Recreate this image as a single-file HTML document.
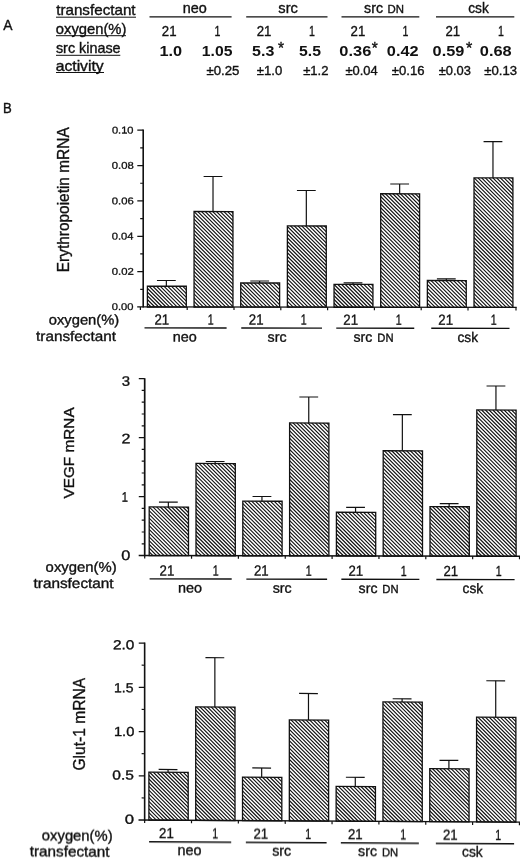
<!DOCTYPE html>
<html><head><meta charset="utf-8"><title>Figure</title>
<style>
html,body{margin:0;padding:0;background:#fff;}
body{width:520px;height:860px;overflow:hidden;font-family:"Liberation Sans",sans-serif;}
svg{display:block;font-family:"Liberation Sans",sans-serif;}
</style></head><body>
<svg width="520" height="860" viewBox="0 0 520 860">
<rect width="520" height="860" fill="#fff"/>
<g opacity="0.999">
<text transform="matrix(0.9644 0 0 1 3.27 30.20)" font-size="14.4" fill="#111" stroke="#111" stroke-width="0.35">A</text>
<text transform="matrix(1.0860 0 0 1 56.17 15.20)" font-size="14.0" fill="#111" stroke="#111" stroke-width="0.35">transfectant</text>
<line x1="56.00" y1="17.20" x2="136.00" y2="17.20" stroke="#111" stroke-width="1.0"/>
<text transform="matrix(1.0567 0 0 1 55.77 34.25)" font-size="14.0" fill="#111" stroke="#111" stroke-width="0.35">oxygen(%)</text>
<line x1="56.00" y1="35.70" x2="126.00" y2="35.70" stroke="#111" stroke-width="1.0"/>
<text transform="matrix(1.0271 0 0 1 55.90 53.20)" font-size="14.0" fill="#111" stroke="#111" stroke-width="0.35">src kinase</text>
<line x1="56.00" y1="55.30" x2="120.30" y2="55.30" stroke="#111" stroke-width="1.0"/>
<text transform="matrix(1.1251 0 0 1 55.63 70.75)" font-size="14.0" fill="#111" stroke="#111" stroke-width="0.35">activity</text>
<line x1="56.00" y1="72.50" x2="104.00" y2="72.50" stroke="#111" stroke-width="1.0"/>
<text transform="matrix(1.0302 0 0 1 182.83 13.10)" font-size="14.0" fill="#111" stroke="#111" stroke-width="0.35">neo</text>
<line x1="149.50" y1="16.80" x2="231.60" y2="16.80" stroke="#111" stroke-width="1.3"/>
<text transform="matrix(1.0484 0 0 1 278.35 13.10)" font-size="14.0" fill="#111" stroke="#111" stroke-width="0.35">src</text>
<line x1="246.20" y1="16.80" x2="327.50" y2="16.80" stroke="#111" stroke-width="1.3"/>
<text transform="matrix(1.0120 0 0 1 364.11 13.10)" font-size="14.0" fill="#111" stroke="#111" stroke-width="0.35">src</text>
<text transform="matrix(0.9918 0 0 1 387.46 13.00)" font-size="11.5" fill="#111" stroke="#111" stroke-width="0.35">DN</text>
<line x1="341.50" y1="16.80" x2="419.30" y2="16.80" stroke="#111" stroke-width="1.3"/>
<text transform="matrix(0.9802 0 0 1 468.17 13.10)" font-size="14.0" fill="#111" stroke="#111" stroke-width="0.35">csk</text>
<line x1="436.00" y1="16.80" x2="514.30" y2="16.80" stroke="#111" stroke-width="1.3"/>
<text transform="matrix(0.9065 0 0 1 161.84 35.80)" font-size="14.6" fill="#111" stroke="#111" stroke-width="0.35">21</text>
<text transform="matrix(0.9065 0 0 1 256.64 35.80)" font-size="14.6" fill="#111" stroke="#111" stroke-width="0.35">21</text>
<text transform="matrix(0.9065 0 0 1 350.54 35.80)" font-size="14.6" fill="#111" stroke="#111" stroke-width="0.35">21</text>
<text transform="matrix(0.9065 0 0 1 445.44 35.80)" font-size="14.6" fill="#111" stroke="#111" stroke-width="0.35">21</text>
<text transform="matrix(0.7285 0 0 1 214.40 35.80)" font-size="14.6" fill="#111" stroke="#111" stroke-width="0.35">1</text>
<text transform="matrix(0.7285 0 0 1 308.90 35.80)" font-size="14.6" fill="#111" stroke="#111" stroke-width="0.35">1</text>
<text transform="matrix(0.7285 0 0 1 402.50 35.80)" font-size="14.6" fill="#111" stroke="#111" stroke-width="0.35">1</text>
<text transform="matrix(0.7285 0 0 1 497.90 35.80)" font-size="14.6" fill="#111" stroke="#111" stroke-width="0.35">1</text>
<text transform="matrix(1.1327 0 0 1 159.48 56.00)" font-size="14.4" font-weight="bold" fill="#111" stroke="#111" stroke-width="0.0">1.0</text>
<text transform="matrix(1.0931 0 0 1 201.82 56.00)" font-size="14.4" font-weight="bold" fill="#111" stroke="#111" stroke-width="0.0">1.05</text>
<text transform="matrix(1.1137 0 0 1 252.02 56.00)" font-size="14.4" font-weight="bold" fill="#111" stroke="#111" stroke-width="0.0">5.3</text>
<text transform="matrix(1.0944 0 0 1 299.03 56.00)" font-size="14.4" font-weight="bold" fill="#111" stroke="#111" stroke-width="0.0">5.5</text>
<text transform="matrix(1.1419 0 0 1 339.34 56.00)" font-size="14.4" font-weight="bold" fill="#111" stroke="#111" stroke-width="0.0">0.36</text>
<text transform="matrix(1.1342 0 0 1 386.85 56.00)" font-size="14.4" font-weight="bold" fill="#111" stroke="#111" stroke-width="0.0">0.42</text>
<text transform="matrix(1.1327 0 0 1 432.60 56.00)" font-size="14.4" font-weight="bold" fill="#111" stroke="#111" stroke-width="0.0">0.59</text>
<text transform="matrix(1.1389 0 0 1 479.84 56.00)" font-size="14.4" font-weight="bold" fill="#111" stroke="#111" stroke-width="0.0">0.68</text>
<text transform="matrix(0.9350 0 0 1 277.98 54.39)" font-size="16.57" fill="#111" stroke="#111" stroke-width="0.35">*</text>
<text transform="matrix(0.9350 0 0 1 371.73 53.79)" font-size="16.57" fill="#111" stroke="#111" stroke-width="0.35">*</text>
<text transform="matrix(0.9775 0 0 1 465.97 53.89)" font-size="16.57" fill="#111" stroke="#111" stroke-width="0.35">*</text>
<text transform="matrix(1.0516 0 0 1 206.47 74.60)" font-size="12.6" fill="#111" stroke="#111" stroke-width="0.35">±0.25</text>
<text transform="matrix(1.0412 0 0 1 256.87 74.60)" font-size="12.6" fill="#111" stroke="#111" stroke-width="0.35">±1.0</text>
<text transform="matrix(1.0375 0 0 1 303.13 74.60)" font-size="12.6" fill="#111" stroke="#111" stroke-width="0.35">±1.2</text>
<text transform="matrix(1.0267 0 0 1 345.38 74.60)" font-size="12.6" fill="#111" stroke="#111" stroke-width="0.35">±0.04</text>
<text transform="matrix(1.0413 0 0 1 391.87 74.60)" font-size="12.6" fill="#111" stroke="#111" stroke-width="0.35">±0.16</text>
<text transform="matrix(1.0249 0 0 1 438.63 74.60)" font-size="12.6" fill="#111" stroke="#111" stroke-width="0.35">±0.03</text>
<text transform="matrix(1.0413 0 0 1 484.37 74.60)" font-size="12.6" fill="#111" stroke="#111" stroke-width="0.35">±0.13</text>
<text transform="matrix(0.9257 0 0 1 2.92 113.00)" font-size="14.2" fill="#111" stroke="#111" stroke-width="0.35">B</text>
<g transform="matrix(1 0.0012 0 1 0 -0.172)">
<line x1="166.35" y1="280.47" x2="166.35" y2="286.22" stroke="#111" stroke-width="1.2"/>
<line x1="156.95" y1="280.47" x2="175.75" y2="280.47" stroke="#111" stroke-width="1.2"/>
<line x1="213.01" y1="176.42" x2="213.01" y2="211.42" stroke="#111" stroke-width="1.2"/>
<line x1="203.61" y1="176.42" x2="222.41" y2="176.42" stroke="#111" stroke-width="1.2"/>
<line x1="259.67" y1="280.86" x2="259.67" y2="282.86" stroke="#111" stroke-width="1.2"/>
<line x1="250.27" y1="280.86" x2="269.07" y2="280.86" stroke="#111" stroke-width="1.2"/>
<line x1="306.33" y1="190.30" x2="306.33" y2="225.80" stroke="#111" stroke-width="1.2"/>
<line x1="296.93" y1="190.30" x2="315.73" y2="190.30" stroke="#111" stroke-width="1.2"/>
<line x1="352.99" y1="282.55" x2="352.99" y2="284.15" stroke="#111" stroke-width="1.2"/>
<line x1="343.59" y1="282.55" x2="362.39" y2="282.55" stroke="#111" stroke-width="1.2"/>
<line x1="399.65" y1="183.69" x2="399.65" y2="193.49" stroke="#111" stroke-width="1.2"/>
<line x1="390.25" y1="183.69" x2="409.05" y2="183.69" stroke="#111" stroke-width="1.2"/>
<line x1="446.31" y1="278.44" x2="446.31" y2="280.14" stroke="#111" stroke-width="1.2"/>
<line x1="436.91" y1="278.44" x2="455.71" y2="278.44" stroke="#111" stroke-width="1.2"/>
<line x1="492.97" y1="141.28" x2="492.97" y2="177.48" stroke="#111" stroke-width="1.2"/>
<line x1="483.57" y1="141.28" x2="502.37" y2="141.28" stroke="#111" stroke-width="1.2"/>
<clipPath id="c1"><rect x="147.40" y="286.22" width="38.90" height="20.78"/><rect x="194.06" y="211.42" width="38.90" height="95.58"/><rect x="240.72" y="282.86" width="38.90" height="24.14"/><rect x="287.38" y="225.80" width="38.90" height="81.20"/><rect x="334.04" y="284.15" width="38.90" height="22.85"/><rect x="380.70" y="193.49" width="38.90" height="113.51"/><rect x="427.36" y="280.14" width="38.90" height="26.86"/><rect x="474.02" y="177.48" width="38.90" height="129.52"/></clipPath>
<path clip-path="url(#c1)" d="M17.88 177.48l129.52 129.52M21.62 177.48l129.52 129.52M25.36 177.48l129.52 129.52M29.10 177.48l129.52 129.52M32.84 177.48l129.52 129.52M36.58 177.48l129.52 129.52M40.32 177.48l129.52 129.52M44.06 177.48l129.52 129.52M47.80 177.48l129.52 129.52M51.54 177.48l129.52 129.52M55.28 177.48l129.52 129.52M59.02 177.48l129.52 129.52M62.76 177.48l129.52 129.52M66.50 177.48l129.52 129.52M70.24 177.48l129.52 129.52M73.98 177.48l129.52 129.52M77.72 177.48l129.52 129.52M81.46 177.48l129.52 129.52M85.20 177.48l129.52 129.52M88.94 177.48l129.52 129.52M92.68 177.48l129.52 129.52M96.42 177.48l129.52 129.52M100.16 177.48l129.52 129.52M103.90 177.48l129.52 129.52M107.64 177.48l129.52 129.52M111.38 177.48l129.52 129.52M115.12 177.48l129.52 129.52M118.86 177.48l129.52 129.52M122.60 177.48l129.52 129.52M126.34 177.48l129.52 129.52M130.08 177.48l129.52 129.52M133.82 177.48l129.52 129.52M137.56 177.48l129.52 129.52M141.30 177.48l129.52 129.52M145.04 177.48l129.52 129.52M148.78 177.48l129.52 129.52M152.52 177.48l129.52 129.52M156.26 177.48l129.52 129.52M160.00 177.48l129.52 129.52M163.74 177.48l129.52 129.52M167.48 177.48l129.52 129.52M171.22 177.48l129.52 129.52M174.96 177.48l129.52 129.52M178.70 177.48l129.52 129.52M182.44 177.48l129.52 129.52M186.18 177.48l129.52 129.52M189.92 177.48l129.52 129.52M193.66 177.48l129.52 129.52M197.40 177.48l129.52 129.52M201.14 177.48l129.52 129.52M204.88 177.48l129.52 129.52M208.62 177.48l129.52 129.52M212.36 177.48l129.52 129.52M216.10 177.48l129.52 129.52M219.84 177.48l129.52 129.52M223.58 177.48l129.52 129.52M227.32 177.48l129.52 129.52M231.06 177.48l129.52 129.52M234.80 177.48l129.52 129.52M238.54 177.48l129.52 129.52M242.28 177.48l129.52 129.52M246.02 177.48l129.52 129.52M249.76 177.48l129.52 129.52M253.50 177.48l129.52 129.52M257.24 177.48l129.52 129.52M260.98 177.48l129.52 129.52M264.72 177.48l129.52 129.52M268.46 177.48l129.52 129.52M272.20 177.48l129.52 129.52M275.94 177.48l129.52 129.52M279.68 177.48l129.52 129.52M283.42 177.48l129.52 129.52M287.16 177.48l129.52 129.52M290.90 177.48l129.52 129.52M294.64 177.48l129.52 129.52M298.38 177.48l129.52 129.52M302.12 177.48l129.52 129.52M305.86 177.48l129.52 129.52M309.60 177.48l129.52 129.52M313.34 177.48l129.52 129.52M317.08 177.48l129.52 129.52M320.82 177.48l129.52 129.52M324.56 177.48l129.52 129.52M328.30 177.48l129.52 129.52M332.04 177.48l129.52 129.52M335.78 177.48l129.52 129.52M339.52 177.48l129.52 129.52M343.26 177.48l129.52 129.52M347.00 177.48l129.52 129.52M350.74 177.48l129.52 129.52M354.48 177.48l129.52 129.52M358.22 177.48l129.52 129.52M361.96 177.48l129.52 129.52M365.70 177.48l129.52 129.52M369.44 177.48l129.52 129.52M373.18 177.48l129.52 129.52M376.92 177.48l129.52 129.52M380.66 177.48l129.52 129.52M384.40 177.48l129.52 129.52M388.14 177.48l129.52 129.52M391.88 177.48l129.52 129.52M395.62 177.48l129.52 129.52M399.36 177.48l129.52 129.52M403.10 177.48l129.52 129.52M406.84 177.48l129.52 129.52M410.58 177.48l129.52 129.52M414.32 177.48l129.52 129.52M418.06 177.48l129.52 129.52M421.80 177.48l129.52 129.52M425.54 177.48l129.52 129.52M429.28 177.48l129.52 129.52M433.02 177.48l129.52 129.52M436.76 177.48l129.52 129.52M440.50 177.48l129.52 129.52M444.24 177.48l129.52 129.52M447.98 177.48l129.52 129.52M451.72 177.48l129.52 129.52M455.46 177.48l129.52 129.52M459.20 177.48l129.52 129.52M462.94 177.48l129.52 129.52M466.68 177.48l129.52 129.52M470.42 177.48l129.52 129.52M474.16 177.48l129.52 129.52M477.90 177.48l129.52 129.52M481.64 177.48l129.52 129.52M485.38 177.48l129.52 129.52M489.12 177.48l129.52 129.52M492.86 177.48l129.52 129.52M496.60 177.48l129.52 129.52M500.34 177.48l129.52 129.52M504.08 177.48l129.52 129.52M507.82 177.48l129.52 129.52M511.56 177.48l129.52 129.52" stroke="#111" stroke-width="1.15" fill="none"/>
<rect x="147.40" y="286.22" width="38.90" height="20.78" fill="none" stroke="#111" stroke-width="1.3"/>
<rect x="194.06" y="211.42" width="38.90" height="95.58" fill="none" stroke="#111" stroke-width="1.3"/>
<rect x="240.72" y="282.86" width="38.90" height="24.14" fill="none" stroke="#111" stroke-width="1.3"/>
<rect x="287.38" y="225.80" width="38.90" height="81.20" fill="none" stroke="#111" stroke-width="1.3"/>
<rect x="334.04" y="284.15" width="38.90" height="22.85" fill="none" stroke="#111" stroke-width="1.3"/>
<rect x="380.70" y="193.49" width="38.90" height="113.51" fill="none" stroke="#111" stroke-width="1.3"/>
<rect x="427.36" y="280.14" width="38.90" height="26.86" fill="none" stroke="#111" stroke-width="1.3"/>
<rect x="474.02" y="177.48" width="38.90" height="129.52" fill="none" stroke="#111" stroke-width="1.3"/>
<line x1="143.20" y1="129.60" x2="143.20" y2="307.60" stroke="#111" stroke-width="1.6"/>
<line x1="137.20" y1="307.00" x2="516.70" y2="307.00" stroke="#111" stroke-width="1.25"/>
<line x1="137.30" y1="271.64" x2="143.20" y2="271.64" stroke="#111" stroke-width="1.25"/>
<line x1="137.30" y1="236.28" x2="143.20" y2="236.28" stroke="#111" stroke-width="1.25"/>
<line x1="137.30" y1="200.92" x2="143.20" y2="200.92" stroke="#111" stroke-width="1.25"/>
<line x1="137.30" y1="165.56" x2="143.20" y2="165.56" stroke="#111" stroke-width="1.25"/>
<line x1="137.30" y1="130.20" x2="143.20" y2="130.20" stroke="#111" stroke-width="1.25"/>
<line x1="140.20" y1="289.32" x2="143.20" y2="289.32" stroke="#111" stroke-width="1.2"/>
<line x1="140.20" y1="253.96" x2="143.20" y2="253.96" stroke="#111" stroke-width="1.2"/>
<line x1="140.20" y1="218.60" x2="143.20" y2="218.60" stroke="#111" stroke-width="1.2"/>
<line x1="140.20" y1="183.24" x2="143.20" y2="183.24" stroke="#111" stroke-width="1.2"/>
<line x1="140.20" y1="147.88" x2="143.20" y2="147.88" stroke="#111" stroke-width="1.2"/>
<line x1="140.40" y1="307.00" x2="140.40" y2="310.00" stroke="#111" stroke-width="1.2"/>
<line x1="187.20" y1="307.00" x2="187.20" y2="310.00" stroke="#111" stroke-width="1.2"/>
<line x1="234.00" y1="307.00" x2="234.00" y2="310.00" stroke="#111" stroke-width="1.2"/>
<line x1="280.80" y1="307.00" x2="280.80" y2="310.00" stroke="#111" stroke-width="1.2"/>
<line x1="327.60" y1="307.00" x2="327.60" y2="310.00" stroke="#111" stroke-width="1.2"/>
<line x1="374.40" y1="307.00" x2="374.40" y2="310.00" stroke="#111" stroke-width="1.2"/>
<line x1="421.20" y1="307.00" x2="421.20" y2="310.00" stroke="#111" stroke-width="1.2"/>
<line x1="468.00" y1="307.00" x2="468.00" y2="310.00" stroke="#111" stroke-width="1.2"/>
<line x1="516.00" y1="307.00" x2="516.00" y2="310.00" stroke="#111" stroke-width="1.2"/>
<text transform="matrix(1.1365 0 0 1 111.75 310.02)" font-size="9.8" fill="#111" stroke="#111" stroke-width="0.3">0.00</text>
<text transform="matrix(1.1552 0 0 1 111.75 274.82)" font-size="9.8" fill="#111" stroke="#111" stroke-width="0.3">0.02</text>
<text transform="matrix(1.1413 0 0 1 111.75 239.42)" font-size="9.8" fill="#111" stroke="#111" stroke-width="0.3">0.04</text>
<text transform="matrix(1.1505 0 0 1 111.75 204.22)" font-size="9.8" fill="#111" stroke="#111" stroke-width="0.3">0.06</text>
<text transform="matrix(1.1505 0 0 1 111.75 168.82)" font-size="9.8" fill="#111" stroke="#111" stroke-width="0.3">0.08</text>
<text transform="matrix(1.1311 0 0 1 111.96 133.42)" font-size="9.8" fill="#111" stroke="#111" stroke-width="0.3">0.10</text>
</g>
<text transform="matrix(0 -0.9778 1 0 68.80 272.27)" font-size="15.8" fill="#111" stroke="#111" stroke-width="0.35">Erythropoietin mRNA</text>
<g transform="matrix(1 0.0012 0 1 0 -0.172)">
<text transform="matrix(1.0537 0 0 1 48.77 324.60)" font-size="14.0" fill="#111" stroke="#111" stroke-width="0.35">oxygen(%)</text>
<text transform="matrix(1.0929 0 0 1 36.07 341.00)" font-size="14.0" fill="#111" stroke="#111" stroke-width="0.35">transfectant</text>
<text transform="matrix(0.9065 0 0 1 154.44 324.40)" font-size="14.6" fill="#111" stroke="#111" stroke-width="0.35">21</text>
<text transform="matrix(0.9065 0 0 1 248.84 324.40)" font-size="14.6" fill="#111" stroke="#111" stroke-width="0.35">21</text>
<text transform="matrix(0.9065 0 0 1 343.34 324.40)" font-size="14.6" fill="#111" stroke="#111" stroke-width="0.35">21</text>
<text transform="matrix(0.9065 0 0 1 438.34 324.40)" font-size="14.6" fill="#111" stroke="#111" stroke-width="0.35">21</text>
<text transform="matrix(0.7285 0 0 1 207.70 324.40)" font-size="14.6" fill="#111" stroke="#111" stroke-width="0.35">1</text>
<text transform="matrix(0.7285 0 0 1 300.70 324.40)" font-size="14.6" fill="#111" stroke="#111" stroke-width="0.35">1</text>
<text transform="matrix(0.7285 0 0 1 395.70 324.40)" font-size="14.6" fill="#111" stroke="#111" stroke-width="0.35">1</text>
<text transform="matrix(0.7285 0 0 1 490.70 324.40)" font-size="14.6" fill="#111" stroke="#111" stroke-width="0.35">1</text>
<line x1="144.50" y1="327.90" x2="226.60" y2="327.90" stroke="#111" stroke-width="1.4"/>
<line x1="241.25" y1="327.90" x2="322.00" y2="327.90" stroke="#111" stroke-width="1.4"/>
<line x1="336.25" y1="327.90" x2="414.25" y2="327.90" stroke="#111" stroke-width="1.4"/>
<line x1="431.25" y1="327.90" x2="509.50" y2="327.90" stroke="#111" stroke-width="1.4"/>
<text transform="matrix(1.0302 0 0 1 172.78 341.50)" font-size="14.0" fill="#111" stroke="#111" stroke-width="0.35">neo</text>
<text transform="matrix(1.0204 0 0 1 267.61 341.50)" font-size="14.0" fill="#111" stroke="#111" stroke-width="0.35">src</text>
<text transform="matrix(1.0120 0 0 1 353.51 341.50)" font-size="14.0" fill="#111" stroke="#111" stroke-width="0.35">src</text>
<text transform="matrix(0.9698 0 0 1 377.27 341.50)" font-size="11.6" fill="#111" stroke="#111" stroke-width="0.35">DN</text>
<text transform="matrix(0.9802 0 0 1 457.42 341.50)" font-size="14.0" fill="#111" stroke="#111" stroke-width="0.35">csk</text>
</g>
<g transform="matrix(1 0.0019 0 1 0 -0.275)">
<line x1="168.35" y1="502.05" x2="168.35" y2="506.95" stroke="#111" stroke-width="1.2"/>
<line x1="158.95" y1="502.05" x2="177.75" y2="502.05" stroke="#111" stroke-width="1.2"/>
<line x1="215.15" y1="461.37" x2="215.15" y2="463.37" stroke="#111" stroke-width="1.2"/>
<line x1="205.75" y1="461.37" x2="224.55" y2="461.37" stroke="#111" stroke-width="1.2"/>
<line x1="261.95" y1="496.28" x2="261.95" y2="500.98" stroke="#111" stroke-width="1.2"/>
<line x1="252.55" y1="496.28" x2="271.35" y2="496.28" stroke="#111" stroke-width="1.2"/>
<line x1="308.75" y1="396.69" x2="308.75" y2="422.69" stroke="#111" stroke-width="1.2"/>
<line x1="299.35" y1="396.69" x2="318.15" y2="396.69" stroke="#111" stroke-width="1.2"/>
<line x1="355.55" y1="506.90" x2="355.55" y2="511.90" stroke="#111" stroke-width="1.2"/>
<line x1="346.15" y1="506.90" x2="364.95" y2="506.90" stroke="#111" stroke-width="1.2"/>
<line x1="402.35" y1="414.11" x2="402.35" y2="450.31" stroke="#111" stroke-width="1.2"/>
<line x1="392.95" y1="414.11" x2="411.75" y2="414.11" stroke="#111" stroke-width="1.2"/>
<line x1="449.15" y1="503.02" x2="449.15" y2="506.12" stroke="#111" stroke-width="1.2"/>
<line x1="439.75" y1="503.02" x2="458.55" y2="503.02" stroke="#111" stroke-width="1.2"/>
<line x1="495.95" y1="385.33" x2="495.95" y2="409.33" stroke="#111" stroke-width="1.2"/>
<line x1="486.55" y1="385.33" x2="505.35" y2="385.33" stroke="#111" stroke-width="1.2"/>
<clipPath id="c2"><rect x="149.20" y="506.95" width="39.30" height="48.65"/><rect x="196.00" y="463.37" width="39.30" height="92.23"/><rect x="242.80" y="500.98" width="39.30" height="54.62"/><rect x="289.60" y="422.69" width="39.30" height="132.91"/><rect x="336.40" y="511.90" width="39.30" height="43.70"/><rect x="383.20" y="450.31" width="39.30" height="105.29"/><rect x="430.00" y="506.12" width="39.30" height="49.48"/><rect x="476.80" y="409.33" width="39.30" height="146.27"/></clipPath>
<path clip-path="url(#c2)" d="M2.93 409.33l146.27 146.27M6.67 409.33l146.27 146.27M10.41 409.33l146.27 146.27M14.15 409.33l146.27 146.27M17.89 409.33l146.27 146.27M21.63 409.33l146.27 146.27M25.37 409.33l146.27 146.27M29.11 409.33l146.27 146.27M32.85 409.33l146.27 146.27M36.59 409.33l146.27 146.27M40.33 409.33l146.27 146.27M44.07 409.33l146.27 146.27M47.81 409.33l146.27 146.27M51.55 409.33l146.27 146.27M55.29 409.33l146.27 146.27M59.03 409.33l146.27 146.27M62.77 409.33l146.27 146.27M66.51 409.33l146.27 146.27M70.25 409.33l146.27 146.27M73.99 409.33l146.27 146.27M77.73 409.33l146.27 146.27M81.47 409.33l146.27 146.27M85.21 409.33l146.27 146.27M88.95 409.33l146.27 146.27M92.69 409.33l146.27 146.27M96.43 409.33l146.27 146.27M100.17 409.33l146.27 146.27M103.91 409.33l146.27 146.27M107.65 409.33l146.27 146.27M111.39 409.33l146.27 146.27M115.13 409.33l146.27 146.27M118.87 409.33l146.27 146.27M122.61 409.33l146.27 146.27M126.35 409.33l146.27 146.27M130.09 409.33l146.27 146.27M133.83 409.33l146.27 146.27M137.57 409.33l146.27 146.27M141.31 409.33l146.27 146.27M145.05 409.33l146.27 146.27M148.79 409.33l146.27 146.27M152.53 409.33l146.27 146.27M156.27 409.33l146.27 146.27M160.01 409.33l146.27 146.27M163.75 409.33l146.27 146.27M167.49 409.33l146.27 146.27M171.23 409.33l146.27 146.27M174.97 409.33l146.27 146.27M178.71 409.33l146.27 146.27M182.45 409.33l146.27 146.27M186.19 409.33l146.27 146.27M189.93 409.33l146.27 146.27M193.67 409.33l146.27 146.27M197.41 409.33l146.27 146.27M201.15 409.33l146.27 146.27M204.89 409.33l146.27 146.27M208.63 409.33l146.27 146.27M212.37 409.33l146.27 146.27M216.11 409.33l146.27 146.27M219.85 409.33l146.27 146.27M223.59 409.33l146.27 146.27M227.33 409.33l146.27 146.27M231.07 409.33l146.27 146.27M234.81 409.33l146.27 146.27M238.55 409.33l146.27 146.27M242.29 409.33l146.27 146.27M246.03 409.33l146.27 146.27M249.77 409.33l146.27 146.27M253.51 409.33l146.27 146.27M257.25 409.33l146.27 146.27M260.99 409.33l146.27 146.27M264.73 409.33l146.27 146.27M268.47 409.33l146.27 146.27M272.21 409.33l146.27 146.27M275.95 409.33l146.27 146.27M279.69 409.33l146.27 146.27M283.43 409.33l146.27 146.27M287.17 409.33l146.27 146.27M290.91 409.33l146.27 146.27M294.65 409.33l146.27 146.27M298.39 409.33l146.27 146.27M302.13 409.33l146.27 146.27M305.87 409.33l146.27 146.27M309.61 409.33l146.27 146.27M313.35 409.33l146.27 146.27M317.09 409.33l146.27 146.27M320.83 409.33l146.27 146.27M324.57 409.33l146.27 146.27M328.31 409.33l146.27 146.27M332.05 409.33l146.27 146.27M335.79 409.33l146.27 146.27M339.53 409.33l146.27 146.27M343.27 409.33l146.27 146.27M347.01 409.33l146.27 146.27M350.75 409.33l146.27 146.27M354.49 409.33l146.27 146.27M358.23 409.33l146.27 146.27M361.97 409.33l146.27 146.27M365.71 409.33l146.27 146.27M369.45 409.33l146.27 146.27M373.19 409.33l146.27 146.27M376.93 409.33l146.27 146.27M380.67 409.33l146.27 146.27M384.41 409.33l146.27 146.27M388.15 409.33l146.27 146.27M391.89 409.33l146.27 146.27M395.63 409.33l146.27 146.27M399.37 409.33l146.27 146.27M403.11 409.33l146.27 146.27M406.85 409.33l146.27 146.27M410.59 409.33l146.27 146.27M414.33 409.33l146.27 146.27M418.07 409.33l146.27 146.27M421.81 409.33l146.27 146.27M425.55 409.33l146.27 146.27M429.29 409.33l146.27 146.27M433.03 409.33l146.27 146.27M436.77 409.33l146.27 146.27M440.51 409.33l146.27 146.27M444.25 409.33l146.27 146.27M447.99 409.33l146.27 146.27M451.73 409.33l146.27 146.27M455.47 409.33l146.27 146.27M459.21 409.33l146.27 146.27M462.95 409.33l146.27 146.27M466.69 409.33l146.27 146.27M470.43 409.33l146.27 146.27M474.17 409.33l146.27 146.27M477.91 409.33l146.27 146.27M481.65 409.33l146.27 146.27M485.39 409.33l146.27 146.27M489.13 409.33l146.27 146.27M492.87 409.33l146.27 146.27M496.61 409.33l146.27 146.27M500.35 409.33l146.27 146.27M504.09 409.33l146.27 146.27M507.83 409.33l146.27 146.27M511.57 409.33l146.27 146.27M515.31 409.33l146.27 146.27" stroke="#111" stroke-width="1.15" fill="none"/>
<rect x="149.20" y="506.95" width="39.30" height="48.65" fill="none" stroke="#111" stroke-width="1.3"/>
<rect x="196.00" y="463.37" width="39.30" height="92.23" fill="none" stroke="#111" stroke-width="1.3"/>
<rect x="242.80" y="500.98" width="39.30" height="54.62" fill="none" stroke="#111" stroke-width="1.3"/>
<rect x="289.60" y="422.69" width="39.30" height="132.91" fill="none" stroke="#111" stroke-width="1.3"/>
<rect x="336.40" y="511.90" width="39.30" height="43.70" fill="none" stroke="#111" stroke-width="1.3"/>
<rect x="383.20" y="450.31" width="39.30" height="105.29" fill="none" stroke="#111" stroke-width="1.3"/>
<rect x="430.00" y="506.12" width="39.30" height="49.48" fill="none" stroke="#111" stroke-width="1.3"/>
<rect x="476.80" y="409.33" width="39.30" height="146.27" fill="none" stroke="#111" stroke-width="1.3"/>
<line x1="144.70" y1="378.20" x2="144.70" y2="556.20" stroke="#111" stroke-width="1.7"/>
<line x1="138.70" y1="555.60" x2="520.00" y2="555.60" stroke="#111" stroke-width="1.5"/>
<line x1="138.80" y1="496.60" x2="144.70" y2="496.60" stroke="#111" stroke-width="1.25"/>
<line x1="138.80" y1="437.60" x2="144.70" y2="437.60" stroke="#111" stroke-width="1.25"/>
<line x1="138.80" y1="378.60" x2="144.70" y2="378.60" stroke="#111" stroke-width="1.25"/>
<line x1="141.70" y1="543.80" x2="144.70" y2="543.80" stroke="#111" stroke-width="1.2"/>
<line x1="141.70" y1="532.00" x2="144.70" y2="532.00" stroke="#111" stroke-width="1.2"/>
<line x1="141.70" y1="520.20" x2="144.70" y2="520.20" stroke="#111" stroke-width="1.2"/>
<line x1="141.70" y1="508.40" x2="144.70" y2="508.40" stroke="#111" stroke-width="1.2"/>
<line x1="141.70" y1="484.80" x2="144.70" y2="484.80" stroke="#111" stroke-width="1.2"/>
<line x1="141.70" y1="473.00" x2="144.70" y2="473.00" stroke="#111" stroke-width="1.2"/>
<line x1="141.70" y1="461.20" x2="144.70" y2="461.20" stroke="#111" stroke-width="1.2"/>
<line x1="141.70" y1="449.40" x2="144.70" y2="449.40" stroke="#111" stroke-width="1.2"/>
<line x1="141.70" y1="425.80" x2="144.70" y2="425.80" stroke="#111" stroke-width="1.2"/>
<line x1="141.70" y1="414.00" x2="144.70" y2="414.00" stroke="#111" stroke-width="1.2"/>
<line x1="141.70" y1="402.20" x2="144.70" y2="402.20" stroke="#111" stroke-width="1.2"/>
<line x1="141.70" y1="390.40" x2="144.70" y2="390.40" stroke="#111" stroke-width="1.2"/>
<line x1="144.70" y1="555.60" x2="144.70" y2="558.60" stroke="#111" stroke-width="1.2"/>
<line x1="191.55" y1="555.60" x2="191.55" y2="558.60" stroke="#111" stroke-width="1.2"/>
<line x1="238.40" y1="555.60" x2="238.40" y2="558.60" stroke="#111" stroke-width="1.2"/>
<line x1="285.25" y1="555.60" x2="285.25" y2="558.60" stroke="#111" stroke-width="1.2"/>
<line x1="332.10" y1="555.60" x2="332.10" y2="558.60" stroke="#111" stroke-width="1.2"/>
<line x1="378.95" y1="555.60" x2="378.95" y2="558.60" stroke="#111" stroke-width="1.2"/>
<line x1="425.80" y1="555.60" x2="425.80" y2="558.60" stroke="#111" stroke-width="1.2"/>
<line x1="472.65" y1="555.60" x2="472.65" y2="558.60" stroke="#111" stroke-width="1.2"/>
<line x1="519.50" y1="555.60" x2="519.50" y2="558.60" stroke="#111" stroke-width="1.2"/>
<text transform="matrix(1.1837 0 0 1 121.25 560.01)" font-size="13.8" fill="#111" stroke="#111" stroke-width="0.35">0</text>
<text transform="matrix(0.8042 0 0 1 121.67 501.84)" font-size="13.8" fill="#111" stroke="#111" stroke-width="0.35">1</text>
<text transform="matrix(1.1626 0 0 1 121.50 443.31)" font-size="13.8" fill="#111" stroke="#111" stroke-width="0.35">2</text>
<text transform="matrix(1.0831 0 0 1 121.74 385.81)" font-size="13.8" fill="#111" stroke="#111" stroke-width="0.35">3</text>
</g>
<text transform="matrix(0 -0.9910 1 0 74.30 498.58)" font-size="15.5" fill="#111" stroke="#111" stroke-width="0.35">VEGF mRNA</text>
<g transform="matrix(1 0.0019 0 1 0 -0.275)">
<text transform="matrix(1.0613 0 0 1 45.62 571.90)" font-size="14.0" fill="#111" stroke="#111" stroke-width="0.35">oxygen(%)</text>
<text transform="matrix(1.0963 0 0 1 33.52 588.20)" font-size="14.0" fill="#111" stroke="#111" stroke-width="0.35">transfectant</text>
<text transform="matrix(0.9065 0 0 1 159.54 575.40)" font-size="14.6" fill="#111" stroke="#111" stroke-width="0.35">21</text>
<text transform="matrix(0.9065 0 0 1 253.94 575.40)" font-size="14.6" fill="#111" stroke="#111" stroke-width="0.35">21</text>
<text transform="matrix(0.9065 0 0 1 348.44 575.40)" font-size="14.6" fill="#111" stroke="#111" stroke-width="0.35">21</text>
<text transform="matrix(0.9065 0 0 1 443.44 575.40)" font-size="14.6" fill="#111" stroke="#111" stroke-width="0.35">21</text>
<text transform="matrix(0.7285 0 0 1 212.80 575.40)" font-size="14.6" fill="#111" stroke="#111" stroke-width="0.35">1</text>
<text transform="matrix(0.7285 0 0 1 305.80 575.40)" font-size="14.6" fill="#111" stroke="#111" stroke-width="0.35">1</text>
<text transform="matrix(0.7285 0 0 1 400.80 575.40)" font-size="14.6" fill="#111" stroke="#111" stroke-width="0.35">1</text>
<text transform="matrix(0.7285 0 0 1 495.80 575.40)" font-size="14.6" fill="#111" stroke="#111" stroke-width="0.35">1</text>
<line x1="149.60" y1="578.90" x2="231.70" y2="578.90" stroke="#111" stroke-width="1.4"/>
<line x1="246.35" y1="578.90" x2="327.10" y2="578.90" stroke="#111" stroke-width="1.4"/>
<line x1="341.35" y1="578.90" x2="419.35" y2="578.90" stroke="#111" stroke-width="1.4"/>
<line x1="436.35" y1="578.90" x2="514.60" y2="578.90" stroke="#111" stroke-width="1.4"/>
<text transform="matrix(1.0302 0 0 1 177.88 592.50)" font-size="14.0" fill="#111" stroke="#111" stroke-width="0.35">neo</text>
<text transform="matrix(1.0204 0 0 1 272.71 592.50)" font-size="14.0" fill="#111" stroke="#111" stroke-width="0.35">src</text>
<text transform="matrix(1.0120 0 0 1 358.61 592.50)" font-size="14.0" fill="#111" stroke="#111" stroke-width="0.35">src</text>
<text transform="matrix(0.9698 0 0 1 382.37 592.50)" font-size="11.6" fill="#111" stroke="#111" stroke-width="0.35">DN</text>
<text transform="matrix(0.9802 0 0 1 462.52 592.50)" font-size="14.0" fill="#111" stroke="#111" stroke-width="0.35">csk</text>
</g>
<g transform="matrix(1 0.0055 0 1 0 -0.796)">
<line x1="168.05" y1="769.37" x2="168.05" y2="772.17" stroke="#111" stroke-width="1.2"/>
<line x1="158.65" y1="769.37" x2="177.45" y2="769.37" stroke="#111" stroke-width="1.2"/>
<line x1="214.86" y1="657.31" x2="214.86" y2="706.61" stroke="#111" stroke-width="1.2"/>
<line x1="205.46" y1="657.31" x2="224.26" y2="657.31" stroke="#111" stroke-width="1.2"/>
<line x1="261.67" y1="767.35" x2="261.67" y2="776.55" stroke="#111" stroke-width="1.2"/>
<line x1="252.27" y1="767.35" x2="271.07" y2="767.35" stroke="#111" stroke-width="1.2"/>
<line x1="308.48" y1="692.60" x2="308.48" y2="719.10" stroke="#111" stroke-width="1.2"/>
<line x1="299.08" y1="692.60" x2="317.88" y2="692.60" stroke="#111" stroke-width="1.2"/>
<line x1="355.29" y1="776.14" x2="355.29" y2="785.34" stroke="#111" stroke-width="1.2"/>
<line x1="345.89" y1="776.14" x2="364.69" y2="776.14" stroke="#111" stroke-width="1.2"/>
<line x1="402.10" y1="697.38" x2="402.10" y2="700.58" stroke="#111" stroke-width="1.2"/>
<line x1="392.70" y1="697.38" x2="411.50" y2="697.38" stroke="#111" stroke-width="1.2"/>
<line x1="448.91" y1="758.72" x2="448.91" y2="767.12" stroke="#111" stroke-width="1.2"/>
<line x1="439.51" y1="758.72" x2="458.31" y2="758.72" stroke="#111" stroke-width="1.2"/>
<line x1="495.72" y1="678.87" x2="495.72" y2="715.37" stroke="#111" stroke-width="1.2"/>
<line x1="486.32" y1="678.87" x2="505.12" y2="678.87" stroke="#111" stroke-width="1.2"/>
<clipPath id="c3"><rect x="148.90" y="772.17" width="39.30" height="47.93"/><rect x="195.71" y="706.61" width="39.30" height="113.49"/><rect x="242.52" y="776.55" width="39.30" height="43.55"/><rect x="289.33" y="719.10" width="39.30" height="101.00"/><rect x="336.14" y="785.34" width="39.30" height="34.76"/><rect x="382.95" y="700.58" width="39.30" height="119.52"/><rect x="429.76" y="767.12" width="39.30" height="52.98"/><rect x="476.57" y="715.37" width="39.30" height="104.73"/></clipPath>
<path clip-path="url(#c3)" d="M29.38 700.58l119.52 119.52M33.12 700.58l119.52 119.52M36.86 700.58l119.52 119.52M40.60 700.58l119.52 119.52M44.34 700.58l119.52 119.52M48.08 700.58l119.52 119.52M51.82 700.58l119.52 119.52M55.56 700.58l119.52 119.52M59.30 700.58l119.52 119.52M63.04 700.58l119.52 119.52M66.78 700.58l119.52 119.52M70.52 700.58l119.52 119.52M74.26 700.58l119.52 119.52M78.00 700.58l119.52 119.52M81.74 700.58l119.52 119.52M85.48 700.58l119.52 119.52M89.22 700.58l119.52 119.52M92.96 700.58l119.52 119.52M96.70 700.58l119.52 119.52M100.44 700.58l119.52 119.52M104.18 700.58l119.52 119.52M107.92 700.58l119.52 119.52M111.66 700.58l119.52 119.52M115.40 700.58l119.52 119.52M119.14 700.58l119.52 119.52M122.88 700.58l119.52 119.52M126.62 700.58l119.52 119.52M130.36 700.58l119.52 119.52M134.10 700.58l119.52 119.52M137.84 700.58l119.52 119.52M141.58 700.58l119.52 119.52M145.32 700.58l119.52 119.52M149.06 700.58l119.52 119.52M152.80 700.58l119.52 119.52M156.54 700.58l119.52 119.52M160.28 700.58l119.52 119.52M164.02 700.58l119.52 119.52M167.76 700.58l119.52 119.52M171.50 700.58l119.52 119.52M175.24 700.58l119.52 119.52M178.98 700.58l119.52 119.52M182.72 700.58l119.52 119.52M186.46 700.58l119.52 119.52M190.20 700.58l119.52 119.52M193.94 700.58l119.52 119.52M197.68 700.58l119.52 119.52M201.42 700.58l119.52 119.52M205.16 700.58l119.52 119.52M208.90 700.58l119.52 119.52M212.64 700.58l119.52 119.52M216.38 700.58l119.52 119.52M220.12 700.58l119.52 119.52M223.86 700.58l119.52 119.52M227.60 700.58l119.52 119.52M231.34 700.58l119.52 119.52M235.08 700.58l119.52 119.52M238.82 700.58l119.52 119.52M242.56 700.58l119.52 119.52M246.30 700.58l119.52 119.52M250.04 700.58l119.52 119.52M253.78 700.58l119.52 119.52M257.52 700.58l119.52 119.52M261.26 700.58l119.52 119.52M265.00 700.58l119.52 119.52M268.74 700.58l119.52 119.52M272.48 700.58l119.52 119.52M276.22 700.58l119.52 119.52M279.96 700.58l119.52 119.52M283.70 700.58l119.52 119.52M287.44 700.58l119.52 119.52M291.18 700.58l119.52 119.52M294.92 700.58l119.52 119.52M298.66 700.58l119.52 119.52M302.40 700.58l119.52 119.52M306.14 700.58l119.52 119.52M309.88 700.58l119.52 119.52M313.62 700.58l119.52 119.52M317.36 700.58l119.52 119.52M321.10 700.58l119.52 119.52M324.84 700.58l119.52 119.52M328.58 700.58l119.52 119.52M332.32 700.58l119.52 119.52M336.06 700.58l119.52 119.52M339.80 700.58l119.52 119.52M343.54 700.58l119.52 119.52M347.28 700.58l119.52 119.52M351.02 700.58l119.52 119.52M354.76 700.58l119.52 119.52M358.50 700.58l119.52 119.52M362.24 700.58l119.52 119.52M365.98 700.58l119.52 119.52M369.72 700.58l119.52 119.52M373.46 700.58l119.52 119.52M377.20 700.58l119.52 119.52M380.94 700.58l119.52 119.52M384.68 700.58l119.52 119.52M388.42 700.58l119.52 119.52M392.16 700.58l119.52 119.52M395.90 700.58l119.52 119.52M399.64 700.58l119.52 119.52M403.38 700.58l119.52 119.52M407.12 700.58l119.52 119.52M410.86 700.58l119.52 119.52M414.60 700.58l119.52 119.52M418.34 700.58l119.52 119.52M422.08 700.58l119.52 119.52M425.82 700.58l119.52 119.52M429.56 700.58l119.52 119.52M433.30 700.58l119.52 119.52M437.04 700.58l119.52 119.52M440.78 700.58l119.52 119.52M444.52 700.58l119.52 119.52M448.26 700.58l119.52 119.52M452.00 700.58l119.52 119.52M455.74 700.58l119.52 119.52M459.48 700.58l119.52 119.52M463.22 700.58l119.52 119.52M466.96 700.58l119.52 119.52M470.70 700.58l119.52 119.52M474.44 700.58l119.52 119.52M478.18 700.58l119.52 119.52M481.92 700.58l119.52 119.52M485.66 700.58l119.52 119.52M489.40 700.58l119.52 119.52M493.14 700.58l119.52 119.52M496.88 700.58l119.52 119.52M500.62 700.58l119.52 119.52M504.36 700.58l119.52 119.52M508.10 700.58l119.52 119.52M511.84 700.58l119.52 119.52M515.58 700.58l119.52 119.52" stroke="#111" stroke-width="1.15" fill="none"/>
<rect x="148.90" y="772.17" width="39.30" height="47.93" fill="none" stroke="#111" stroke-width="1.3"/>
<rect x="195.71" y="706.61" width="39.30" height="113.49" fill="none" stroke="#111" stroke-width="1.3"/>
<rect x="242.52" y="776.55" width="39.30" height="43.55" fill="none" stroke="#111" stroke-width="1.3"/>
<rect x="289.33" y="719.10" width="39.30" height="101.00" fill="none" stroke="#111" stroke-width="1.3"/>
<rect x="336.14" y="785.34" width="39.30" height="34.76" fill="none" stroke="#111" stroke-width="1.3"/>
<rect x="382.95" y="700.58" width="39.30" height="119.52" fill="none" stroke="#111" stroke-width="1.3"/>
<rect x="429.76" y="767.12" width="39.30" height="52.98" fill="none" stroke="#111" stroke-width="1.3"/>
<rect x="476.57" y="715.37" width="39.30" height="104.73" fill="none" stroke="#111" stroke-width="1.3"/>
<line x1="144.65" y1="642.60" x2="144.65" y2="820.70" stroke="#111" stroke-width="1.6"/>
<line x1="138.50" y1="820.10" x2="520.00" y2="820.10" stroke="#111" stroke-width="1.4"/>
<line x1="138.75" y1="775.85" x2="144.65" y2="775.85" stroke="#111" stroke-width="1.25"/>
<line x1="138.75" y1="731.60" x2="144.65" y2="731.60" stroke="#111" stroke-width="1.25"/>
<line x1="138.75" y1="687.35" x2="144.65" y2="687.35" stroke="#111" stroke-width="1.25"/>
<line x1="138.75" y1="643.10" x2="144.65" y2="643.10" stroke="#111" stroke-width="1.25"/>
<line x1="141.65" y1="797.98" x2="144.65" y2="797.98" stroke="#111" stroke-width="1.2"/>
<line x1="141.65" y1="753.73" x2="144.65" y2="753.73" stroke="#111" stroke-width="1.2"/>
<line x1="141.65" y1="709.48" x2="144.65" y2="709.48" stroke="#111" stroke-width="1.2"/>
<line x1="141.65" y1="665.23" x2="144.65" y2="665.23" stroke="#111" stroke-width="1.2"/>
<line x1="144.65" y1="820.10" x2="144.65" y2="823.10" stroke="#111" stroke-width="1.2"/>
<line x1="191.50" y1="820.10" x2="191.50" y2="823.10" stroke="#111" stroke-width="1.2"/>
<line x1="238.35" y1="820.10" x2="238.35" y2="823.10" stroke="#111" stroke-width="1.2"/>
<line x1="285.20" y1="820.10" x2="285.20" y2="823.10" stroke="#111" stroke-width="1.2"/>
<line x1="332.05" y1="820.10" x2="332.05" y2="823.10" stroke="#111" stroke-width="1.2"/>
<line x1="378.90" y1="820.10" x2="378.90" y2="823.10" stroke="#111" stroke-width="1.2"/>
<line x1="425.75" y1="820.10" x2="425.75" y2="823.10" stroke="#111" stroke-width="1.2"/>
<line x1="472.60" y1="820.10" x2="472.60" y2="823.10" stroke="#111" stroke-width="1.2"/>
<line x1="519.45" y1="820.10" x2="519.45" y2="823.10" stroke="#111" stroke-width="1.2"/>
<text transform="matrix(1.2692 0 0 1 124.63 823.90)" font-size="13.2" fill="#111" stroke="#111" stroke-width="0.35">0</text>
<text transform="matrix(1.1797 0 0 1 112.28 779.60)" font-size="13.2" fill="#111" stroke="#111" stroke-width="0.35">0.5</text>
<text transform="matrix(1.1149 0 0 1 113.90 736.20)" font-size="13.2" fill="#111" stroke="#111" stroke-width="0.35">1.0</text>
<text transform="matrix(1.0636 0 0 1 113.95 692.44)" font-size="13.2" fill="#111" stroke="#111" stroke-width="0.35">1.5</text>
<text transform="matrix(1.1691 0 0 1 112.93 649.30)" font-size="13.2" fill="#111" stroke="#111" stroke-width="0.35">2.0</text>
</g>
<text transform="matrix(0 -0.9758 1 0 84.60 770.58)" font-size="16.0" fill="#111" stroke="#111" stroke-width="0.35">Glut-1 mRNA</text>
<g transform="matrix(1 0.0055 0 1 0 -0.796)">
<text transform="matrix(1.0575 0 0 1 41.87 840.60)" font-size="14.0" fill="#111" stroke="#111" stroke-width="0.35">oxygen(%)</text>
<text transform="matrix(1.0915 0 0 1 29.77 856.50)" font-size="14.0" fill="#111" stroke="#111" stroke-width="0.35">transfectant</text>
<text transform="matrix(0.9065 0 0 1 159.04 838.30)" font-size="14.6" fill="#111" stroke="#111" stroke-width="0.35">21</text>
<text transform="matrix(0.9065 0 0 1 253.44 838.30)" font-size="14.6" fill="#111" stroke="#111" stroke-width="0.35">21</text>
<text transform="matrix(0.9065 0 0 1 347.94 838.30)" font-size="14.6" fill="#111" stroke="#111" stroke-width="0.35">21</text>
<text transform="matrix(0.9065 0 0 1 442.94 838.30)" font-size="14.6" fill="#111" stroke="#111" stroke-width="0.35">21</text>
<text transform="matrix(0.7285 0 0 1 212.30 838.30)" font-size="14.6" fill="#111" stroke="#111" stroke-width="0.35">1</text>
<text transform="matrix(0.7285 0 0 1 305.30 838.30)" font-size="14.6" fill="#111" stroke="#111" stroke-width="0.35">1</text>
<text transform="matrix(0.7285 0 0 1 400.30 838.30)" font-size="14.6" fill="#111" stroke="#111" stroke-width="0.35">1</text>
<text transform="matrix(0.7285 0 0 1 495.30 838.30)" font-size="14.6" fill="#111" stroke="#111" stroke-width="0.35">1</text>
<line x1="149.10" y1="841.80" x2="231.20" y2="841.80" stroke="#111" stroke-width="1.4"/>
<line x1="245.85" y1="841.80" x2="326.60" y2="841.80" stroke="#111" stroke-width="1.4"/>
<line x1="340.85" y1="841.80" x2="418.85" y2="841.80" stroke="#111" stroke-width="1.4"/>
<line x1="435.85" y1="841.80" x2="514.10" y2="841.80" stroke="#111" stroke-width="1.4"/>
<text transform="matrix(1.0302 0 0 1 177.38 855.40)" font-size="14.0" fill="#111" stroke="#111" stroke-width="0.35">neo</text>
<text transform="matrix(1.0204 0 0 1 272.21 855.40)" font-size="14.0" fill="#111" stroke="#111" stroke-width="0.35">src</text>
<text transform="matrix(1.0120 0 0 1 358.11 855.40)" font-size="14.0" fill="#111" stroke="#111" stroke-width="0.35">src</text>
<text transform="matrix(0.9698 0 0 1 381.87 855.40)" font-size="11.6" fill="#111" stroke="#111" stroke-width="0.35">DN</text>
<text transform="matrix(0.9802 0 0 1 462.02 855.40)" font-size="14.0" fill="#111" stroke="#111" stroke-width="0.35">csk</text>
</g>
</g>
</svg>
</body></html>
